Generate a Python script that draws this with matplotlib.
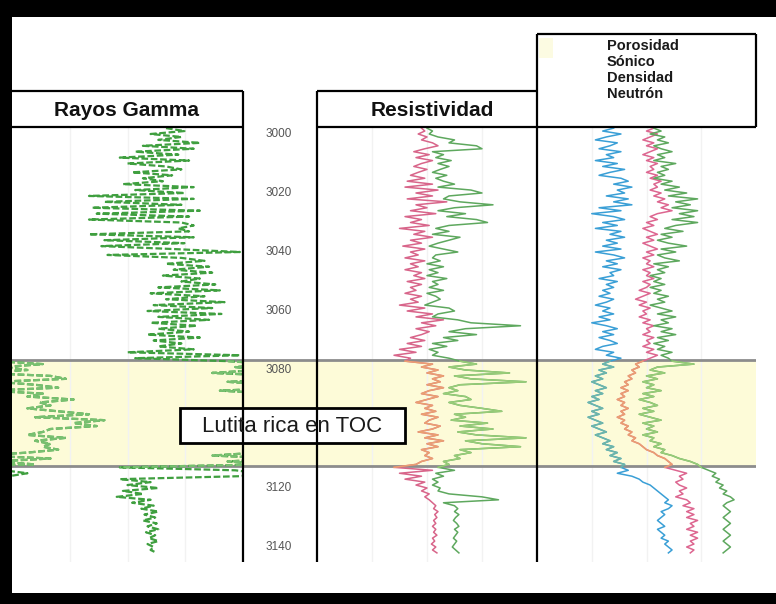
import numpy as np
import matplotlib
matplotlib.use("Agg")
import matplotlib.pyplot as plt
from matplotlib.patches import Rectangle
from matplotlib import font_manager as fm

# ---------------- data ----------------
depth = np.arange(2998, 3143)  # m, 1 m step

gamma_ray = np.array([
    100, 112, 90, 110, 95, 122, 85, 118, 80, 108,
    70, 115, 75, 100, 110, 78, 104, 85, 98, 72,
    118, 80, 112, 50, 118, 60, 110, 52, 122, 55,
    115, 50, 110, 118, 108, 115, 50, 118, 60, 112,
    58, 105, 148, 62, 110, 125, 100, 128, 105, 130,
    98, 122, 110, 132, 95, 135, 90, 125, 100, 138,
    92, 130, 88, 136, 95, 128, 90, 120, 95, 115,
    88, 122, 92, 110, 95, 118, 75, 148, 80,
    140, 170, 145, 160, 130, 175, 185, 140, 165, 180,
    135, 170, 160, 190, 168, 175, 160, 180, 200, 165,
    210, 190, 205, 175, 170, 160, 185, 165, 175, 170,
    180, 160, 130, 175, 140, 165,
    70, 145, 160, 148, 70, 90, 75, 95, 72, 85,
    68, 90, 78, 92, 84, 95, 86, 93, 85, 94,
    88, 95, 87, 93, 89, 95, 88, 92, 90, 94])

res_deep = np.array([
    9.5, 9.8, 9.2, 10.0, 9.5, 10.5, 11.0, 9.8, 8.8, 10.2,
    9.0, 10.5, 9.5, 8.8, 10.0, 9.2, 8.5, 9.8, 8.2, 10.5,
    8.0, 11.0, 9.0, 10.5, 8.2, 11.8, 9.0, 10.0, 8.5, 10.8,
    8.0, 9.5, 8.5, 10.2, 7.5, 9.8, 8.8, 10.5, 8.5, 9.5,
    7.8, 9.8, 8.5, 9.2, 8.0, 9.8, 8.5, 9.2, 8.0, 9.5,
    8.8, 9.8, 8.2, 9.5, 8.5, 9.0, 8.0, 9.5, 8.5, 9.2,
    7.5, 9.8, 8.2, 10.5, 9.0, 11.5, 9.5, 10.8, 9.0, 10.2,
    9.5, 8.5, 9.8, 8.2, 9.5, 7.5, 9.0, 7.0, 8.5,
    8.0, 10.5, 9.5, 11.0, 10.0, 11.5, 10.5, 11.2, 10.0, 11.5,
    10.2, 9.5, 11.0, 10.0, 9.0, 10.5, 9.8, 10.8, 9.5, 11.0,
    10.2, 9.8, 11.2, 10.5, 9.2, 11.0, 9.8, 11.5, 10.0, 11.0,
    9.5, 10.2, 9.8, 10.5, 9.5, 9.0,
    7.0, 10.5, 7.5, 9.5, 8.0, 9.8, 9.0, 10.0, 9.5, 10.2,
    9.8, 10.2, 10.5, 10.8, 10.6, 11.0, 10.7, 10.9, 10.6, 10.8,
    10.5, 10.8, 10.6, 10.9, 10.5, 10.7, 10.4, 10.8, 10.5, 10.9])

res_shallow = np.array([
    10.0, 10.5, 10.2, 11.0, 12.5, 12.0, 14.5, 15.0, 10.5, 11.5,
    10.8, 12.2, 11.0, 12.0, 11.2, 10.5, 11.8, 10.8, 11.5, 12.5,
    11.0, 14.0, 15.0, 12.0, 11.5, 13.0, 16.0, 12.5, 11.0, 13.5,
    11.8, 14.5, 15.5, 12.0, 10.8, 12.0, 10.5, 13.0, 12.0, 11.0,
    10.2, 11.5, 12.8, 10.8, 10.5, 11.2, 10.0, 11.5, 10.2, 11.0,
    10.0, 11.8, 10.5, 11.0, 10.2, 11.5, 10.0, 10.8, 11.2, 10.5,
    9.8, 12.0, 12.5, 11.0, 10.5, 12.8, 14.0, 18.5, 13.5, 12.0,
    14.5, 11.5, 12.8, 10.5, 11.8, 10.2, 11.0, 10.5, 12.0,
    13.0, 14.5, 12.0, 13.5, 17.5, 12.5, 14.0, 19.0, 13.0, 12.0,
    12.8, 11.5, 13.5, 14.0, 12.0, 13.0, 15.0, 16.8, 12.5, 13.5,
    12.2, 15.5, 13.0, 16.0, 12.8, 14.5, 19.0, 13.5, 15.0, 18.5,
    13.0, 14.0, 12.5, 13.0, 11.5, 12.0,
    11.0, 12.5, 10.8, 11.5, 10.5, 11.0, 10.5, 11.2, 11.0, 12.0,
    15.0, 16.5, 11.5, 12.5, 12.8, 12.5, 12.9, 12.6, 12.4, 12.7,
    12.9, 12.5, 12.8, 12.6, 12.4, 12.7, 12.5, 12.3, 12.6, 12.9])

phi_neutron = np.array([
    24, 27, 22, 26, 29, 23, 25, 28, 22, 26,
    24, 29, 23, 27, 21, 25, 28, 22, 20, 24,
    19, 23, 21, 26, 20, 24, 19, 28, 22, 30,
    24, 21, 27, 23, 29, 22, 25, 21, 26, 23,
    27, 22, 29, 24, 21, 26, 23, 27, 22, 25,
    24, 28, 23, 26, 24, 27, 25, 28, 24, 26,
    29, 25, 27, 24, 28, 25, 30, 26, 23, 27,
    24, 28, 25, 23, 27, 29, 24, 26, 22,
    25, 27, 24, 28, 26, 29, 27, 30, 28, 26,
    29, 27, 30, 28, 31, 29, 27, 30, 28, 31,
    29, 27, 30, 28, 26, 29, 27, 25, 27, 24,
    26, 23, 25, 22, 24, 21,
    22, 20, 23, 19, 17, 16, 14, 13, 12, 11,
    10, 9, 10, 8, 9, 11, 10, 11, 12, 11,
    10, 12, 11, 10, 11, 9, 10, 9, 8, 9])

phi_density = np.array([
    13, 15, 12, 14, 16, 13, 15, 12, 14, 16,
    13, 15, 12, 14, 13, 15, 12, 14, 11, 13,
    12, 14, 11, 13, 10, 12, 9, 11, 8, 12,
    14, 12, 15, 13, 16, 14, 12, 15, 13, 16,
    14, 12, 15, 13, 16, 14, 15, 13, 16, 14,
    15, 13, 16, 14, 15, 17, 14, 16, 18, 15,
    17, 14, 16, 15, 17, 14, 16, 13, 15, 14,
    16, 13, 15, 14, 16, 13, 15, 12, 14,
    16, 18, 17, 19, 18, 20, 19, 21, 20, 22,
    20, 22, 21, 23, 21, 22, 20, 22, 21, 23,
    21, 22, 20, 21, 19, 20, 18, 19, 17, 16,
    15, 13, 12, 10, 9, 8,
    10, 7, 4, 6, 5, 7, 6, 4, 6, 5,
    7, 4, 3, 5, 2, 4, 2, 4, 1, 3,
    2, 4, 1, 3, 1, 3, 2, 4, 2, 3])

phi_sonic = np.array([
    13, 11, 14, 10, 12, 9, 13, 11, 8, 12,
    10, 13, 7, 11, 9, 12, 10, 13, 8, 11,
    6, 10, 4, 9, 1, 7, 3, 8, 1, 6,
    2, 8, 1, 7, 10, 5, 11, 8, 12, 9,
    4, 11, 7, 12, 10, 6, 13, 9, 12, 10,
    14, 11, 13, 10, 14, 11, 13, 9, 12, 10,
    14, 11, 8, 12, 7, 11, 9, 13, 8, 11,
    7, 12, 9, 13, 10, 12, 8, 11, 9,
    8, 2, 12, 14, 10, 15, 12, 16, 13, 15,
    11, 16, 13, 17, 14, 12, 16, 13, 17, 14,
    11, 16, 13, 15, 12, 16, 13, 14, 11, 13,
    10, 11, 8, 6, 3, 1,
    0, -2, -4, -3, -5, -4, -6, -5, -7, -6,
    -8, -9, -7, -6, -7, -8, -7, -6, -7, -8,
    -7, -6, -7, -8, -7, -6, -7, -8, -7, -6])

# 3100 is hidden behind the "Lutita" label box in the reference
depth_ticks = [3000, 3020, 3040, 3060, 3080, 3120, 3140]
zone_top, zone_bottom = 3076.6, 3112.5
legend_labels = ["Porosidad", "Sónico", "Densidad", "Neutrón"]
track_titles = ["Rayos Gamma", "Resistividad"]
zone_label = "Lutita rica en TOC"

# ---------------- fonts ----------------
names = {f.name for f in fm.fontManager.ttflist}
NARROW = "Liberation Sans Narrow" if "Liberation Sans Narrow" in names else "Liberation Sans"
SANS = "Liberation Sans" if "Liberation Sans" in names else "DejaVu Sans"

# ---------------- figure ----------------
W, H = 776, 604
fig = plt.figure(figsize=(W / 100, H / 100), dpi=100, facecolor="black")

def fr(x0, y0, x1, y1):
    return [x0 / W, (H - y1) / H, (x1 - x0) / W, (y1 - y0) / H]

bg = fig.add_axes([0, 0, 1, 1], zorder=-5)
bg.set_xlim(0, W); bg.set_ylim(H, 0); bg.axis("off")
bg.add_patch(Rectangle((12, 17), W - 12, 576, facecolor="white", edgecolor="none"))

TOP, BOT = 127, 562
DTOP = 3000 + (TOP - 134) / 2.95
DBOT = 3000 + (BOT - 134) / 2.95

def track(x0, x1, xlim):
    ax = fig.add_axes(fr(x0, TOP, x1, BOT))
    ax.set_facecolor("none")
    ax.set_xlim(*xlim)
    ax.set_ylim(DBOT, DTOP)
    for s in ax.spines.values():
        s.set_visible(False)
    ax.set_xticks([]); ax.set_yticks([])
    ax.axhspan(zone_top, zone_bottom, color="#fdfbd8", zorder=0, lw=0)
    for yy in (zone_top, zone_bottom):
        ax.axhline(yy, color="#8c8c8c", lw=2, zorder=1)
    return ax

ax_gr = track(12, 243, (0, 150))
ax_dp = track(243, 317, (0, 1))
ax_rs = track(317, 537, (0, 20))
ax_ph = track(537, 756, (45, -15))

# faint grid lines
for ax, xs in ((ax_gr, [37.5, 75, 112.5]), (ax_rs, [5, 10, 15]), (ax_ph, [30, 15, 0])):
    for xv in xs:
        ax.axvline(xv, color="#f2f2f2", lw=1, zorder=0.5)

inzone = (depth >= zone_top - 0.5) & (depth <= zone_bottom + 0.5)

def curve(ax, x, c, cz, lw=1.1, ls="-"):
    ax.plot(x, depth, color=c, lw=lw, ls=ls, zorder=3)
    xz = np.where(inzone, x, np.nan)
    ax.plot(xz, depth, color=cz, lw=lw, ls=ls, zorder=3.5)

# gamma ray with wrap-around backup
curve(ax_gr, gamma_ray, "#3f9f3f", "#78c070", lw=1.6, ls=(0, (3, 1.2)))
curve(ax_gr, gamma_ray - 150, "#3f9f3f", "#78c070", lw=1.6, ls=(0, (3, 1.2)))

# resistivity
curve(ax_rs, res_deep, "#d8658a", "#eaa070", lw=1.1)
curve(ax_rs, res_shallow, "#5ea85e", "#98cc78", lw=1.1)

# porosity
curve(ax_ph, phi_neutron, "#3a9fd6", "#6fb6a6", lw=1.1)
curve(ax_ph, phi_density, "#dd6690", "#eaa070", lw=1.1)
curve(ax_ph, phi_sonic, "#5ea85e", "#98cc78", lw=1.1)

# depth labels
for d in depth_ticks:
    ax_dp.text(0.48, d, str(d), ha="center", va="center", fontsize=8.5,
               color="#555555", family=NARROW, zorder=2)

# ---------------- overlay: boxes, lines, texts ----------------
ov = fig.add_axes([0, 0, 1, 1], zorder=10)
ov.set_facecolor("none")
ov.set_xlim(0, W); ov.set_ylim(H, 0); ov.axis("off")

k = dict(color="black", lw=1.6, solid_capstyle="butt")
ov.plot([243, 243], [91, 562], **k)
ov.plot([317, 317], [91, 562], **k)
ov.plot([537, 537], [34, 562], **k)
ov.plot([12, 243], [91, 91], **k)
ov.plot([12, 243], [127, 127], **k)
ov.plot([317, 537], [91, 91], **k)
ov.plot([317, 756], [127, 127], **k)
ov.plot([537, 756], [34, 34], **k)
ov.plot([756, 756], [34, 127], **k)

ov.add_patch(Rectangle((539, 38), 14, 20, facecolor="#fcfbe2", edgecolor="none"))

ov.text(127, 110, track_titles[0], ha="center", va="center", fontsize=15,
        fontweight="bold", family=NARROW, color="#111111")
ov.text(432, 111, track_titles[1], ha="center", va="center", fontsize=15,
        fontweight="bold", family=NARROW, color="#111111")

for i, lab in enumerate(legend_labels):
    ov.text(607, 46 + 16 * i, lab, ha="left", va="center", fontsize=10.5,
            fontweight="bold", family=NARROW, color="#1a1a1a")

ov.add_patch(Rectangle((180, 408), 225, 35, facecolor="white", edgecolor="black", lw=2))
ov.text(292, 426, zone_label, ha="center", va="center", fontsize=16,
        family=SANS, color="#1a1a1a")

fig.savefig("out.png", dpi=100, facecolor="black")
